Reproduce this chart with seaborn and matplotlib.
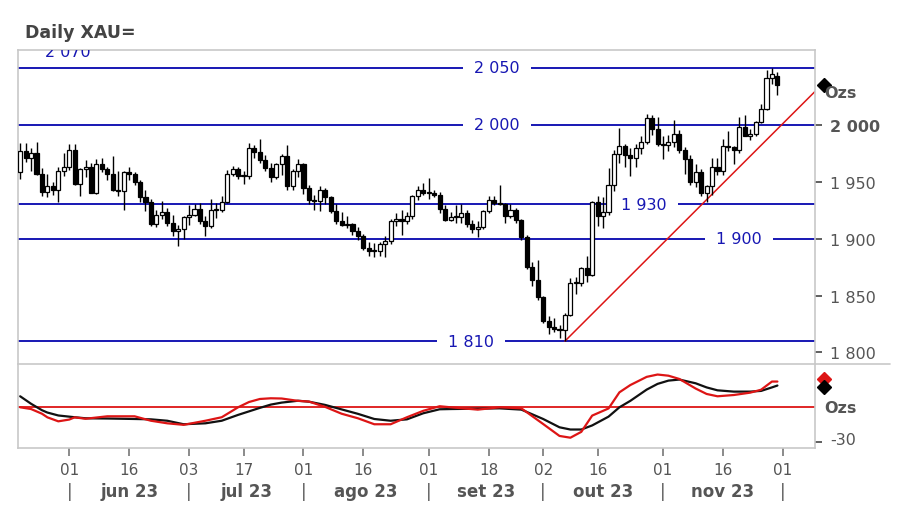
import matplotlib
matplotlib.use("Agg")
import matplotlib.pyplot as plt
import matplotlib.transforms as mtrans
import seaborn as sns
import numpy as np
import pandas as pd
from matplotlib.transforms import blended_transform_factory
from matplotlib.lines import Line2D

# ---------------- data (daily XAU, 19 May 2023 .. 30 Nov 2023, trading-day index) -------------
opens = [1958, 1977, 1971, 1975, 1957, 1941, 1946, 1943, 1959, 1963,
         1978, 1948, 1961, 1963, 1940, 1965, 1961, 1957, 1943, 1942,
         1958, 1957, 1950, 1936, 1932, 1913, 1921, 1923, 1914, 1907,
         1908, 1919, 1921, 1926, 1915, 1911, 1925, 1925, 1932, 1957,
         1961, 1955, 1955, 1979, 1976, 1969, 1962, 1954, 1965, 1972,
         1946, 1959, 1965, 1944, 1934, 1933, 1943, 1936, 1924, 1915,
         1912, 1913, 1907, 1902, 1892, 1889, 1889, 1895, 1898, 1915,
         1917, 1915, 1920, 1937, 1943, 1940, 1940, 1938, 1926, 1916,
         1919, 1919, 1922, 1913, 1908, 1910, 1924, 1934, 1931, 1930,
         1920, 1925, 1916, 1901, 1875, 1864, 1849, 1828, 1822, 1821,
         1820, 1833, 1861, 1861, 1874, 1868, 1932, 1920, 1923, 1947,
         1974, 1981, 1973, 1971, 1979, 1985, 2006, 1996, 1983, 1982,
         1985, 1992, 1978, 1970, 1950, 1958, 1940, 1946, 1963, 1959,
         1981, 1980, 1978, 1998, 1990, 1992, 2002, 2014, 2041, 2043]
highs = [1984, 1984, 1979, 1985, 1962, 1957, 1950, 1963, 1975, 1983,
         1983, 1962, 1969, 1966, 1970, 1971, 1963, 1972, 1959, 1959,
         1963, 1958, 1951, 1943, 1935, 1925, 1933, 1927, 1921, 1912,
         1920, 1929, 1930, 1931, 1920, 1935, 1931, 1937, 1960, 1964,
         1963, 1959, 1984, 1982, 1987, 1973, 1966, 1966, 1974, 1982,
         1961, 1970, 1966, 1947, 1938, 1946, 1944, 1937, 1930, 1923,
         1920, 1914, 1910, 1904, 1897, 1896, 1897, 1902, 1917, 1922,
         1925, 1923, 1938, 1946, 1949, 1953, 1943, 1941, 1929, 1923,
         1929, 1930, 1925, 1916, 1915, 1925, 1937, 1937, 1947, 1931,
         1930, 1927, 1917, 1903, 1879, 1881, 1850, 1832, 1830, 1824,
         1835, 1865, 1866, 1875, 1885, 1933, 1937, 1936, 1962, 1978,
         1997, 1983, 1979, 1983, 1990, 2009, 2008, 2007, 1990, 1991,
         2004, 1995, 1980, 1973, 1965, 1961, 1947, 1971, 1971, 1987,
         1994, 1981, 2007, 2008, 1996, 2003, 2018, 2048, 2050, 2046]
lows = [1952, 1967, 1959, 1956, 1937, 1936, 1938, 1932, 1955, 1960,
        1947, 1937, 1954, 1940, 1939, 1958, 1951, 1942, 1937, 1925,
        1951, 1947, 1932, 1924, 1911, 1910, 1917, 1911, 1902, 1893,
        1900, 1912, 1920, 1913, 1902, 1909, 1918, 1923, 1931, 1955,
        1952, 1948, 1952, 1971, 1966, 1959, 1950, 1952, 1956, 1943,
        1943, 1954, 1939, 1930, 1925, 1924, 1930, 1922, 1913, 1911,
        1909, 1903, 1899, 1890, 1885, 1884, 1885, 1884, 1895, 1911,
        1903, 1913, 1917, 1934, 1938, 1935, 1936, 1922, 1915, 1915,
        1914, 1914, 1910, 1905, 1901, 1908, 1922, 1929, 1929, 1914,
        1918, 1914, 1899, 1873, 1858, 1846, 1826, 1816, 1818, 1813,
        1810, 1832, 1851, 1858, 1862, 1867, 1911, 1909, 1921, 1942,
        1966, 1963, 1955, 1963, 1974, 1983, 1991, 1981, 1970, 1977,
        1980, 1975, 1957, 1947, 1945, 1937, 1932, 1938, 1956, 1956,
        1977, 1965, 1975, 1990, 1986, 1990, 2001, 2013, 2036, 2026]
closes = [1977, 1971, 1975, 1957, 1941, 1946, 1943, 1959, 1963, 1978,
          1948, 1961, 1963, 1940, 1965, 1961, 1957, 1943, 1942, 1958,
          1957, 1950, 1936, 1932, 1913, 1921, 1923, 1914, 1907, 1908,
          1919, 1921, 1926, 1915, 1911, 1925, 1925, 1932, 1957, 1961,
          1955, 1955, 1979, 1976, 1969, 1962, 1954, 1965, 1972, 1946,
          1959, 1965, 1944, 1934, 1933, 1943, 1936, 1924, 1915, 1912,
          1913, 1907, 1902, 1892, 1889, 1889, 1895, 1898, 1915, 1917,
          1915, 1920, 1937, 1943, 1940, 1940, 1938, 1926, 1916, 1919,
          1919, 1922, 1913, 1908, 1910, 1924, 1934, 1931, 1930, 1920,
          1925, 1916, 1901, 1875, 1864, 1849, 1828, 1822, 1821, 1820,
          1833, 1861, 1861, 1874, 1868, 1932, 1920, 1923, 1947, 1974,
          1981, 1973, 1971, 1979, 1985, 2006, 1996, 1983, 1982, 1985,
          1992, 1978, 1970, 1950, 1958, 1940, 1946, 1963, 1959, 1981,
          1980, 1978, 1998, 1990, 1992, 2002, 2014, 2041, 2044, 2035]

# oscillator (lower panel)
osc_x = [0, 2, 4, 5, 7, 9, 10, 12, 16, 21, 24, 27, 30, 34, 37, 40, 42, 44, 46, 48,
         51, 53, 56, 59, 62, 65, 68, 71, 74, 77, 79, 84, 88, 92, 96, 99, 101, 103, 105, 108,
         110, 112, 115, 117, 119, 121, 124, 126, 128, 131, 134, 136, 138, 139]
osc_black = [9.4, 3, -2.5, -4.5, -7, -8, -8.5, -9.4, -9.6, -10, -10.3, -11.5, -14.5, -13.7, -11.5,
             -6.5, -3.5, -0.5, 2.3, 4, 5.6, 4.8, 2, -1.8, -5.6, -10, -11.5, -10.3, -5.1, -1.7,
             -1.5, -1.2, -0.9, -2, -10, -17.1, -19, -19, -15.5, -8, 0, 5.5, 15.1, 20, 22.8, 23.7,
             20.5, 17, 14.5, 13.4, 13.4, 14, 17, 18.6]
osc_red = [0, -1.5, -5.5, -8.6, -12, -10.5, -8.6, -9.8, -7.7, -7.7, -11.5, -13.7, -15, -11.5, -8.5,
           0, 4.5, 7.1, 7.7, 7.5, 5.5, 4.9, 0.3, -5.5, -9.4, -14.5, -14.5, -8.5, -3, 0.9,
           0, -2, 0, -0.9, -14.3, -24.5, -26, -21, -7.1, -1, 12.8, 19, 26, 28, 27, 24.2,
           16, 11.4, 9.4, 10.5, 12.5, 15, 22, 22]

tick_pos = [9, 20, 31, 41, 52, 63, 75, 86, 96, 106, 118, 129, 140]
tick_labels = ['01', '16', '03', '17', '01', '16', '01', '18', '02', '16', '01', '16', '01']
month_starts = [9, 31, 52, 75, 96, 118, 140]
month_names = ['jun 23', 'jul 23', 'ago 23', 'set 23', 'out 23', 'nov 23']

levels = [2050, 2000, 1930, 1900, 1810]
level_labels = ['2 050', '2 000', '1 930', '1 900', '1 810']
level_label_x = [87.5, 87.5, 114.5, 131.9, 82.8]

price_ticks = [1800, 1850, 1900, 1950, 2000]
price_tick_labels = ['1 800', '1 850', '1 900', '1 950', '2 000']

trend_x = [100, 145.9]
trend_y = [1810, 2029]

# ---------------- figure -------------
sns.set_style('white')
plt.rcParams['font.family'] = ['DejaVu Sans']

W, H = 900, 506
fig = plt.figure(figsize=(9, 5.06), dpi=100)


def rect(l, t, r, b):
    return [l / W, 1 - b / H, (r - l) / W, (b - t) / H]


ax = fig.add_axes(rect(18, 51, 815, 365))
ax2 = fig.add_axes(rect(18, 365, 815, 449), sharex=ax)

BLUE = '#1717b3'
RED = '#dd1515'
GRAY = '#555555'
FRAME = '#c8c8c8'
XMIN, XMAX = -0.4, 145.9

df = pd.DataFrame({'o': opens, 'h': highs, 'l': lows, 'c': closes})
df['i'] = np.arange(len(df))
up = df['c'] >= df['o']
body_lo = np.minimum(df['o'], df['c'])
body_h = np.maximum((df['c'] - df['o']).abs(), 0.8)

ax.vlines(df['i'], df['l'], df['h'], color='black', lw=1.0, zorder=3)
ax.bar(df['i'], body_h, bottom=body_lo, width=0.75,
       color=np.where(up, 'white', 'black'), edgecolor='black', linewidth=0.9, zorder=4)

# horizontal levels with labels
gap = 6.2
for lv, lab, lx in zip(levels, level_labels, level_label_x):
    ax.hlines(lv, XMIN, lx - gap, color=BLUE, lw=1.4, zorder=2)
    ax.hlines(lv, lx + gap, XMAX, color=BLUE, lw=1.4, zorder=2)
    ax.text(lx, lv, lab, color=BLUE, fontsize=11.5, ha='center', va='center', zorder=5)
ax.text(8.8, 2063.8, '2 070', color=BLUE, fontsize=11.5, ha='center', va='center', clip_on=True)

ax.plot(trend_x, trend_y, color=RED, lw=1.1, zorder=2)

ax.set_xlim(XMIN, XMAX)
ax.set_ylim(1789.9, 2065.4)
ax.yaxis.tick_right()
ax.set_yticks(price_ticks)
ax.set_yticklabels(price_tick_labels)
for t in ax.get_yticklabels():
    if t.get_text() == '2 000':
        t.set_fontweight('bold')
ax.tick_params(axis='y', right=True, left=False, length=5, width=1.2, color='#444444',
               labelsize=11.5, labelcolor=GRAY, pad=6)
ax.tick_params(axis='x', bottom=False, labelbottom=False)
for s in ['left', 'top', 'right']:
    ax.spines[s].set_color(FRAME)
    ax.spines[s].set_linewidth(1.2)
ax.spines['bottom'].set_visible(False)

ax.plot([1.0107], [2035], marker='D', color='black', ms=7, transform=blended_transform_factory(ax.transAxes, ax.transData),
        clip_on=False)
ax.text(1.012, 2028, 'Ozs', transform=blended_transform_factory(ax.transAxes, ax.transData),
        fontsize=11.5, fontweight='bold', color=GRAY, ha='left', va='center')

# ---------------- lower panel -------------
osc = pd.DataFrame({'i': osc_x + osc_x,
                    'v': osc_black + osc_red,
                    's': ['black'] * len(osc_x) + ['red'] * len(osc_x)})
ax2.axhline(0, color=RED, lw=1.3, zorder=1)
sns.lineplot(data=osc, x='i', y='v', hue='s', palette={'black': '#111111', 'red': RED},
             linewidth=1.6, legend=False, ax=ax2, errorbar=None)
ax2.set_ylim(-34.8, 37)
ax2.set_xlim(XMIN, XMAX)
ax2.set_xlabel('')
ax2.set_ylabel('')
ax2.yaxis.tick_right()
ax2.set_yticks([-30])
ax2.set_yticklabels(['-30'])
ax2.tick_params(axis='y', right=True, left=False, length=5, width=1.2, color='#444444',
                labelsize=11.5, labelcolor=GRAY, pad=6)
shift_up = mtrans.ScaledTranslation(0, 4 / 100, fig.dpi_scale_trans)
for t in ax2.get_yticklabels():
    t.set_transform(t.get_transform() + shift_up)
ax2.set_xticks(tick_pos)
ax2.set_xticklabels(tick_labels)
ax2.tick_params(axis='x', bottom=True, length=6, width=1.2, color='#777777',
                labelsize=11, labelcolor=GRAY, pad=4)
for s in ['left', 'bottom', 'right']:
    ax2.spines[s].set_color(FRAME)
    ax2.spines[s].set_linewidth(1.2)
ax2.spines['top'].set_visible(False)

tr2 = blended_transform_factory(ax2.transAxes, ax2.transData)
ax2.plot([1.0107], [24], marker='D', color=RED, ms=7, transform=tr2, clip_on=False)
ax2.plot([1.0107], [17.5], marker='D', color='black', ms=7, transform=tr2, clip_on=False)
ax2.text(1.012, 0, 'Ozs', transform=tr2, fontsize=11.5, fontweight='bold', color=GRAY,
         ha='left', va='center')

# divider line between panels (extends past the frame)
fig.add_artist(Line2D([18 / W, 890 / W], [1 - 365 / H] * 2, color=FRAME, lw=1.2))

# month labels and separators
trm = blended_transform_factory(ax2.transData, fig.transFigure)
ym = 1 - 492 / H
for ms in month_starts:
    ax2.text(ms, ym, '|', transform=trm, ha='center', va='center', fontsize=12, color=GRAY)
for a, b, name in zip(month_starts[:-1], month_starts[1:], month_names):
    ax2.text((a + b) / 2, ym, name, transform=trm, ha='center', va='center',
             fontsize=12, fontweight='bold', color=GRAY)

fig.text(25 / W, 1 - 33 / H, 'Daily XAU=', fontsize=12.5, fontweight='bold', color='#444444',
         ha='left', va='center')

fig.savefig('out.png', dpi=100)
